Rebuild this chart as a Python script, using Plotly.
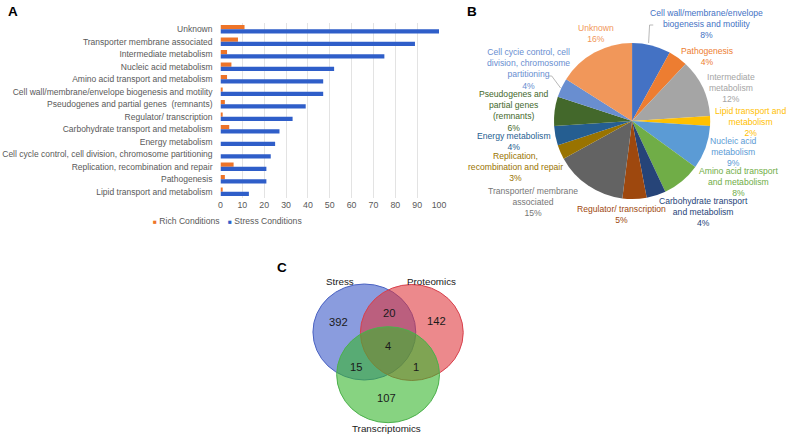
import plotly.graph_objects as go

W, H = 795, 436
FONT = "Liberation Sans, Arial, Helvetica, sans-serif"


def px(x):
    return x / W


def py(y):
    return 1 - y / H


# ---------------- Panel A data ----------------
categories = [
    "Unknown",
    "Transporter membrane associated",
    "Intermediate metabolism",
    "Nucleic acid metabolism",
    "Amino acid transport and metabolism",
    "Cell wall/membrane/envelope biogenesis and motility",
    "Pseudogenes and partial genes  (remnants)",
    "Regulator/ transcription",
    "Carbohydrate transport and metabolism",
    "Energy metabolism",
    "Cell cycle control, cell division, chromosome partitioning",
    "Replication, recombination and repair",
    "Pathogenesis",
    "Lipid transport and metabolism",
]
series_names = ["Rich Conditions", "Stress Conditions"]
rich_conditions = [11, 8, 3, 5, 3, 1, 2, 1, 4, 0, 0, 6, 2, 1]
stress_conditions = [100, 89, 75, 52, 47, 47, 39, 33, 27, 25, 23, 21, 21, 13]
x_tick_values = [0, 10, 20, 30, 40, 50, 60, 70, 80, 90, 100]

# ---------------- Panel B data ----------------
pie_labels = [
    "Cell wall/membrane/envelope biogenesis and motility",
    "Pathogenesis",
    "Intermediate metabolism",
    "Lipid transport and metabolism",
    "Nucleic acid metabolism",
    "Amino acid transport and metabolism",
    "Carbohydrate transport and metabolism",
    "Regulator/ transcription",
    "Transporter/ membrane associated",
    "Replication, recombination and repair",
    "Energy metabolism",
    "Pseudogenes and partial genes (remnants)",
    "Cell cycie control, cell division, chromosome partitioning",
    "Unknown",
]
pie_percent = [8, 4, 12, 2, 9, 8, 4, 5, 15, 3, 4, 6, 4, 16]
pie_label_wrapped = [
    "Cell wall/membrane/envelope<br>biogenesis and motility",
    "Pathogenesis",
    "Intermediate<br>metabolism",
    "Lipid transport and<br>metabolism",
    "Nucleic acid<br>metabolism",
    "Amino acid transport<br>and metabolism",
    "Carbohydrate transport<br>and metabolism",
    "Regulator/ transcription",
    "Transporter/ membrane<br>associated",
    "Replication,<br>recombination and repair",
    "Energy metabolism",
    "Pseudogenes and<br>partial genes<br>(remnants)",
    "Cell cycie control, cell<br>division, chromosome<br>partitioning",
    "Unknown",
]

# ---------------- Panel C data ----------------
venn_sets = ["Stress", "Proteomics", "Transcriptomics"]
venn_regions = ["S", "P", "T", "S&P", "S&T", "P&T", "S&P&T"]
venn_counts = [392, 142, 107, 20, 15, 1, 4]

# ---------------- styles / layout geometry ----------------
RICH_COLOR = "#EE7428"
STRESS_COLOR = "#2F5EC9"
series_colors = [RICH_COLOR, STRESS_COLOR]
TEXT_GRAY = "#595959"

pie_colors = ["#4472C4", "#ED7D31", "#A5A5A5", "#FFC000", "#5B9BD5", "#70AD47",
              "#264478", "#9E480E", "#636363", "#997300", "#255E91", "#43682B",
              "#698ED0", "#F1975A"]
pie_text_colors = ["#4472C4", "#ED7D31", "#A5A5A5", "#FFC000", "#5B9BD5", "#70AD47",
                   "#264478", "#9E480E", "#767676", "#997300", "#255E91", "#43682B",
                   "#698ED0", "#F1975A"]
pie_label_pos = [(712.7, 24.5), (713.3, 56), (737.3, 88.5), (757.3, 122),
                 (740.3, 152), (745, 181.5), (710, 211.5), (627, 214.5),
                 (537.5, 202), (519.5, 166.5), (518, 141), (517.5, 110.5),
                 (533, 69.5), (601, 34)]
leader_paths = ["M 658.7 25 L 655 25 L 654 43",
                "M 553 76 L 556 76 L 565 88"]

venn_geom = {  # centre x, centre y, rx, ry (pixels)
    "Stress": (366.5, 332, 52, 48),
    "Proteomics": (414.5, 332.5, 52, 48),
    "Transcriptomics": (390.5, 374.7, 52, 48),
}
venn_fill = {"Stress": "rgba(60,90,200,0.6)",
             "Proteomics": "rgba(222,52,56,0.58)",
             "Transcriptomics": "rgba(55,182,45,0.6)"}
venn_line = {"Stress": "#4A62C2", "Proteomics": "#D8404C", "Transcriptomics": "#4CB04C"}
venn_set_label_pos = {"Stress": (341.7, 281), "Proteomics": (434.3, 281),
                      "Transcriptomics": (389.3, 428.5)}
venn_region_pos = {"S": (340, 321.7), "P": (439, 321), "T": (388.7, 397.7),
                   "S&P": (391, 312.7), "S&T": (357.7, 366.7), "P&T": (419, 367),
                   "S&P&T": (390.7, 345.7)}
legend_pos = [(151.8, 220.5), (227.6, 220.5)]
letter_pos = [(11, 11.5), (475.5, 11), (283, 267)]

fig = go.Figure()

# Panel A bars
for name, vals, col in zip(series_names, [rich_conditions, stress_conditions], series_colors):
    fig.add_trace(go.Bar(y=categories, x=vals, orientation="h", name=name,
                         marker=dict(color=col, line=dict(width=0)),
                         xaxis="x", yaxis="y", hoverinfo="x+y", showlegend=False))

# Panel B pie
fig.add_trace(go.Pie(labels=pie_labels, values=pie_percent, sort=False,
                     direction="clockwise", rotation=0,
                     marker=dict(colors=pie_colors, line=dict(width=0)),
                     textinfo="none", showlegend=False,
                     domain=dict(x=[px(558.3), px(716.3)], y=[py(200), py(42)])))

shapes = []
annotations = []

# Pie leader lines (paper pixel paths)
for p in leader_paths:
    toks = p.split()
    out = []
    i = 0
    while i < len(toks):
        out.append(f"{toks[i]} {px(float(toks[i + 1])):.5f} {py(float(toks[i + 2])):.5f}")
        i += 3
    shapes.append(dict(type="path", xref="paper", yref="paper", path=" ".join(out),
                       line=dict(color="#A6A6A6", width=0.8)))

# Legend for panel A (compact, like the original)
for name, col, (lx, ly) in zip(series_names, series_colors, legend_pos):
    annotations.append(dict(xref="paper", yref="paper", x=px(lx), y=py(ly),
                            text=f'<span style="color:{col};font-size:6.5px">■</span> {name}',
                            showarrow=False, xanchor="left", yanchor="middle", borderpad=0,
                            font=dict(family=FONT, size=8.6, color=TEXT_GRAY)))

# Venn circles
for s in venn_sets:
    cx, cy, rx, ry = venn_geom[s]
    shapes.append(dict(type="circle", xref="x2", yref="y2",
                       x0=cx - rx, x1=cx + rx, y0=cy - ry, y1=cy + ry,
                       fillcolor=venn_fill[s], line=dict(color=venn_line[s], width=1),
                       layer="above"))
    lx, ly = venn_set_label_pos[s]
    annotations.append(dict(xref="x2", yref="y2", x=lx, y=ly, text=s, showarrow=False,
                            borderpad=0,
                            font=dict(family=FONT, size=9.8, color="#1a1a1a")))

for r, c in zip(venn_regions, venn_counts):
    lx, ly = venn_region_pos[r]
    annotations.append(dict(xref="x2", yref="y2", x=lx, y=ly, text=str(c), showarrow=False,
                            borderpad=0,
                            font=dict(family=FONT, size=11.2, color="#1a1a1a")))

# Pie labels
total = sum(pie_percent)
for lab, v, col, (lx, ly) in zip(pie_label_wrapped, pie_percent, pie_text_colors, pie_label_pos):
    annotations.append(dict(xref="paper", yref="paper", x=px(lx), y=py(ly),
                            text=f"{lab}<br>{round(v / total * 100)}%", showarrow=False,
                            align="center", xanchor="center", yanchor="middle", borderpad=0,
                            font=dict(family=FONT, size=8.6, color=col)))

# Panel letters
for letter, (lx, ly) in zip(["A", "B", "C"], letter_pos):
    annotations.append(dict(xref="paper", yref="paper", x=px(lx), y=py(ly), text=f"<b>{letter}</b>",
                            showarrow=False, xanchor="center", yanchor="middle", borderpad=0,
                            font=dict(family=FONT, size=13.5, color="black")))

fig.update_layout(
    width=W, height=H,
    margin=dict(l=0, r=0, t=0, b=0),
    paper_bgcolor="white", plot_bgcolor="white",
    font=dict(family=FONT, size=8.6, color=TEXT_GRAY),
    showlegend=False,
    barmode="group", bargap=0.32, bargroupgap=0,
    xaxis=dict(domain=[px(221), px(442)], range=[0, 100], tickvals=x_tick_values,
               showgrid=True, gridcolor="#E3E3E3", gridwidth=1, zeroline=False,
               showline=False, ticks="", tickfont=dict(size=8.8, color=TEXT_GRAY),
               fixedrange=True),
    yaxis=dict(domain=[py(198), py(23)], autorange="reversed", showgrid=False,
               zeroline=False, showline=False, ticks="", ticklabelstandoff=7,
               tickfont=dict(size=8.5, color=TEXT_GRAY), fixedrange=True),
    xaxis2=dict(domain=[px(280), px(500)], range=[280, 500], visible=False,
                fixedrange=True, anchor="y2"),
    yaxis2=dict(domain=[py(436), py(250)], range=[436, 250], visible=False,
                fixedrange=True, anchor="x2"),
    shapes=shapes,
    annotations=annotations,
)

# The page's default 8px body margin would push the 795x436 figure off the window.
fig.write_html("out.html", config={"displayModeBar": False},
               post_script="document.body.style.margin='0px';document.body.style.overflow='hidden';")
